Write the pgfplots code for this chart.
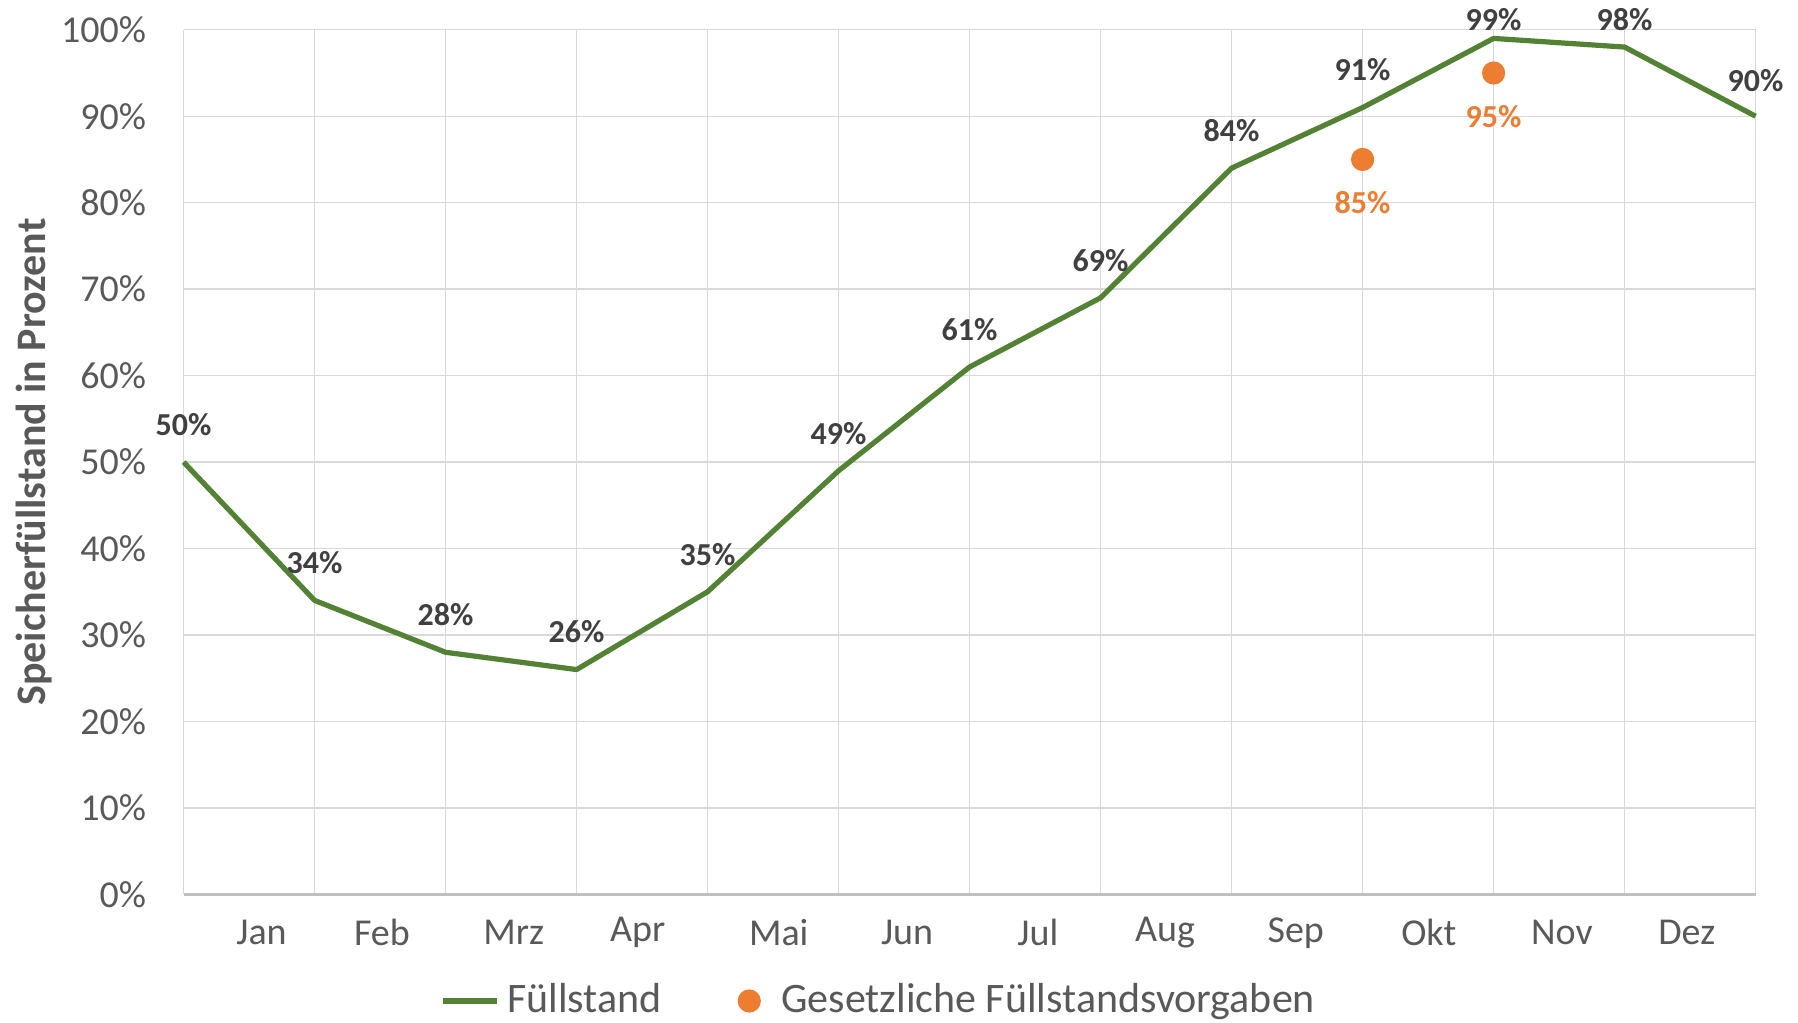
\documentclass[border=0pt]{standalone}
\usepackage{pgfplots}
\usepackage{pgfplotstable}
\pgfplotsset{compat=1.18}
\usepackage{fontspec}
\setmainfont{Carlito}

\definecolor{fgreen}{HTML}{548235}
\definecolor{forange}{HTML}{ED7D31}
\definecolor{gridgray}{HTML}{D9D9D9}
\definecolor{ticktext}{HTML}{595959}
\definecolor{labeltext}{HTML}{404040}

% Fuellstand, dy = Abstand des Labels ueber dem Punkt (pt)
\pgfplotstableread{
x  y   dy
0  50  9.4
1  34  9.4
2  28  9.4
3  26  9.4
4  35  9.4
5  49  9.4
6  61  9.4
7  69  9.4
8  84  9.4
9  91  9.4
10 99  4.7
11 98  6.9
12 90  9.0
}\fuellstand

\pgfplotstableread{
x  y
9  85
10 95
}\vorgaben

\begin{document}
\begin{tikzpicture}
\begin{axis}[
  at={(0,0)}, anchor=south west,
  scale only axis, width=393pt, height=216.15pt,
  xmin=0, xmax=12, ymin=0, ymax=100,
  clip=false,
  axis line style={draw=none},
  major tick length=0pt,
  xtick={0,...,12}, xticklabels={},
  extra x ticks={0.595,1.514,2.521,3.466,4.543,5.523,6.521,7.492,8.490,9.505,10.521,11.475},
  extra x tick labels={Jan,Feb,Mrz,Apr,Mai,Jun,Jul,Aug,Sep,Okt,Nov,Dez},
  extra x tick style={grid=none, major tick length=0pt},
  xticklabel style={anchor=center, yshift=-9.6pt, font=\fontsize{9.5}{11}\selectfont, text=ticktext},
  ytick={0,10,...,100},
  yticklabels={0\%,10\%,20\%,30\%,40\%,50\%,60\%,70\%,80\%,90\%,100\%},
  yticklabel style={anchor=east, inner sep=0pt, xshift=-9.2pt, font=\fontsize{9.5}{11}\selectfont, text=ticktext},
  grid=major, major grid style={gridgray, line width=0.35pt},
  ylabel={Speicherfüllstand in Prozent},
  ylabel style={at={(axis description cs:-0.0949,0.5)}, anchor=center,
    font=\bfseries\fontsize{10.5}{12}\selectfont, text=ticktext},
  legend columns=2,
  legend style={at={(0.444,-0.1233)}, anchor=center, draw=none, fill=none,
    font=\fontsize{10.5}{12}\selectfont, text=ticktext,
    /tikz/every even column/.append style={column sep=17pt}},
]
\draw[gridgray!85!black!90, line width=0.6pt] (axis cs:0,0) -- (axis cs:12,0);

\addplot[fgreen, line width=1.3pt, line join=round,
  point meta=y,
  visualization depends on={\thisrow{dy}\as\dy},
  nodes near coords={\pgfmathprintnumber[assume math mode=true]{\pgfplotspointmeta}\%},
  nodes near coords style={anchor=center, yshift=\dy pt, text=labeltext,
    font=\bfseries\fontsize{8}{9}\selectfont},
  legend image code/.code={\draw[fgreen, line width=1.3pt] (0pt,0pt) -- (13.5pt,0pt);}
] table[x=x, y=y] {\fuellstand};
\addlegendentry{Füllstand}

\addplot[only marks, mark=*, mark size=2.7pt, forange,
  mark options={draw=forange, fill=forange},
  point meta=y,
  nodes near coords={\pgfmathprintnumber[assume math mode=true]{\pgfplotspointmeta}\%},
  nodes near coords style={anchor=center, yshift=-10.8pt, text=forange,
    font=\bfseries\fontsize{8}{9}\selectfont},
  legend image code/.code={\fill[forange] (0pt,0pt) circle (2.7pt);
    \path[draw=none, fill=none] (-2.7pt,0pt) rectangle (6pt,0.1pt);}
] table[x=x, y=y] {\vorgaben};
\addlegendentry{Gesetzliche Füllstandsvorgaben}
\end{axis}
\pgfresetboundingbox
\path (-45.9pt,-32.15pt) rectangle (403.6pt,223.6pt);
\end{tikzpicture}
\end{document}
